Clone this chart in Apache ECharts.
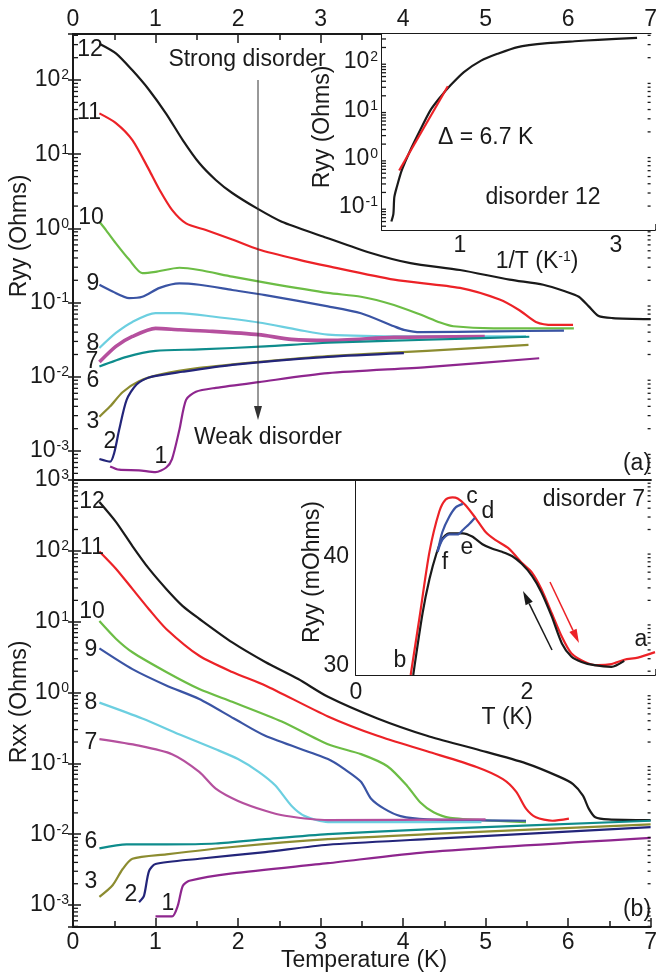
<!DOCTYPE html>
<html>
<head>
<meta charset="utf-8">
<script src="https://cdn.jsdelivr.net/npm/echarts@6/dist/echarts.min.js"></script>
<style>
  html, body { margin: 0; padding: 0; background: #fff; }
  #chart { width: 660px; height: 973px; }
</style>
</head>
<body>
<div id="chart"></div>
<script>
// (a) Ryy vs T, pairs of [T (K), R (Ohms)], one array per disorder level
const ra12 = [[0.32,309],[0.52,229],[0.72,135],[0.92,74],[1.13,35],[1.33,15.5],[1.53,7.6],[1.73,4.5],[1.93,3.0],[2.23,1.86],[2.53,1.23],[3.03,0.78],[3.6,0.47],[4.09,0.34],[4.69,0.275],[5.29,0.204],[5.7,0.174],[5.97,0.141],[6.13,0.12],[6.25,0.089],[6.37,0.066],[6.54,0.062],[7.0,0.060]];
const ra11 = [[0.32,35.5],[0.52,26.3],[0.72,15.5],[0.92,6.2],[1.05,3.3],[1.2,1.78],[1.37,1.17],[1.61,0.95],[1.93,0.71],[2.25,0.52],[2.73,0.38],[3.09,0.31],[3.89,0.204],[4.69,0.158],[5.17,0.11],[5.41,0.079],[5.61,0.055],[5.82,0.05],[6.06,0.05]];
const ra10 = [[0.32,1.23],[0.4,0.95],[0.52,0.63],[0.68,0.38],[0.84,0.25],[1.0,0.26],[1.29,0.295],[1.53,0.275],[1.93,0.224],[2.33,0.186],[3.09,0.135],[3.49,0.12],[3.89,0.093],[4.21,0.069],[4.45,0.054],[4.61,0.048],[5.1,0.045],[6.07,0.045]];
const ra9 = [[0.32,0.174],[0.48,0.141],[0.68,0.115],[0.84,0.12],[1.05,0.158],[1.29,0.182],[1.53,0.174],[1.93,0.148],[2.33,0.126],[3.09,0.089],[3.49,0.072],[3.89,0.048],[4.01,0.043],[4.21,0.040],[5.1,0.041],[5.95,0.042]];
const ra8 = [[0.32,0.0245],[0.52,0.039],[0.72,0.055],[1.0,0.072],[1.29,0.072],[1.69,0.065],[2.25,0.054],[2.73,0.043],[3.09,0.037],[4.09,0.035],[5.49,0.035]];
const ra7 = [[0.32,0.0158],[0.52,0.0257],[0.72,0.035],[1.0,0.045],[1.29,0.043],[1.69,0.041],[2.25,0.037],[2.65,0.032],[3.09,0.031],[3.89,0.034],[4.99,0.035]];
const ra6 = [[0.32,0.0138],[0.65,0.0186],[1.0,0.0224],[1.53,0.0234],[2.33,0.0257],[3.09,0.0288],[4.29,0.0316],[5.53,0.0347]];
const ra3 = [[0.32,0.0029],[0.45,0.004],[0.6,0.0062],[0.8,0.0087],[1.05,0.0107],[1.53,0.0132],[2.33,0.0162],[3.09,0.019],[4.29,0.0224],[5.52,0.0269]];
const ra2 = [[0.32,0.00078],[0.45,0.00072],[0.5,0.00095],[0.56,0.00195],[0.65,0.0049],[0.77,0.0079],[0.92,0.0098],[1.33,0.0117],[1.93,0.0145],[3.09,0.0186],[4.01,0.0209]];
const ra1 = [[0.45,0.00062],[0.56,0.00056],[0.8,0.00055],[1.0,0.00052],[1.13,0.0006],[1.2,0.00078],[1.29,0.00195],[1.37,0.0049],[1.49,0.0063],[1.73,0.0071],[2.25,0.0085],[3.09,0.0112],[4.29,0.0135],[5.65,0.0178]];

// (b) Rxx vs T
const rb12 = [[0.32,490],[0.52,257],[0.72,117],[0.92,56],[1.13,29],[1.33,16.6],[1.53,11],[1.93,5.1],[2.33,2.7],[2.73,1.55],[3.09,0.87],[3.69,0.43],[4.29,0.245],[4.89,0.158],[5.49,0.1],[5.89,0.065],[6.06,0.051],[6.18,0.035],[6.25,0.023],[6.33,0.0174],[6.49,0.0162],[7.0,0.0158]];
const rb11 = [[0.32,98],[0.52,56],[0.72,29],[0.92,15],[1.13,7.9],[1.53,3.3],[1.93,1.95],[2.33,1.26],[3.09,0.46],[3.69,0.245],[4.29,0.148],[4.89,0.089],[5.21,0.06],[5.37,0.04],[5.49,0.023],[5.61,0.0174],[5.81,0.0155],[6.01,0.0166]];
const rb10 = [[0.32,10.2],[0.52,5.75],[0.72,3.7],[1.13,1.95],[1.53,1.12],[1.93,0.74],[2.53,0.39],[3.09,0.186],[3.49,0.135],[3.81,0.091],[4.05,0.048],[4.21,0.028],[4.37,0.0204],[4.57,0.017],[5.1,0.0155],[5.49,0.0148]];
const rb9 = [[0.32,4.2],[0.72,2.14],[1.13,1.26],[1.53,0.81],[1.95,0.43],[2.33,0.245],[3.09,0.115],[3.29,0.083],[3.49,0.055],[3.61,0.032],[3.77,0.023],[3.97,0.018],[4.29,0.0162],[5.49,0.0155]];
const rb8 = [[0.32,0.72],[0.84,0.43],[1.33,0.245],[1.73,0.158],[2.0,0.115],[2.25,0.076],[2.45,0.049],[2.65,0.025],[2.81,0.018],[3.09,0.0148],[4.95,0.0148]];
const rb7 = [[0.32,0.22],[0.8,0.178],[1.2,0.135],[1.53,0.076],[1.73,0.044],[2.0,0.0295],[2.33,0.0214],[2.57,0.0182],[3.09,0.0158],[5.0,0.0162]];
const rb6 = [[0.32,0.0063],[0.65,0.0072],[1.13,0.0072],[1.73,0.0074],[2.33,0.0085],[3.09,0.01],[4.29,0.0117],[7.0,0.0155]];
const rb3 = [[0.32,0.0013],[0.48,0.0019],[0.6,0.0032],[0.72,0.0045],[1.13,0.0052],[1.93,0.0066],[3.09,0.0085],[4.29,0.01],[7.0,0.0138]];
const rb2 = [[0.8,0.0011],[0.86,0.00135],[0.92,0.003],[1.0,0.0038],[1.53,0.0045],[2.33,0.0056],[3.09,0.0071],[4.29,0.0085],[7.0,0.0126]];
const rb1 = [[1.0,0.00069],[1.2,0.00069],[1.27,0.00098],[1.33,0.00186],[1.41,0.0022],[1.93,0.0028],[3.09,0.0039],[4.29,0.0056],[7.0,0.0089]];

// inset (a): disorder 12, Ryy vs 1/T, plus the activated fit
const invT12 = [[0.12,0.05],[0.146,0.072],[0.158,0.16],[0.19,0.26],[0.254,0.58],[0.362,1.48],[0.49,3.9],[0.62,10],[0.75,19],[0.878,33],[1.05,62],[1.27,107],[1.48,148],[1.74,204],[2.12,245],[2.47,269],[2.77,288],[3.27,316]];
const fit12 = [[0.22,0.57],[0.844,31.6]];

// inset (b): disorder 7, Ryy (mOhms) vs T, warming / cooling / partial loops
const warm7 = [[0.64,29.1],[0.74,34.2],[0.86,40.4],[0.975,44.1],[1.05,45.2],[1.13,45.4],[1.19,45.3],[1.28,44.7],[1.40,43.5],[1.52,42.2],[1.63,41.5],[1.79,40.7],[1.94,39.4],[2.06,38.5],[2.17,37.0],[2.29,34.8],[2.41,32.6],[2.52,31.1],[2.68,30.3],[2.83,30.0],[2.99,30.1],[3.14,30.5],[3.30,30.7],[3.5,31.2]];
const cool7 = [[0.67,29.1],[0.78,34.8],[0.86,37.9],[0.94,40.2],[1.01,41.6],[1.09,42.1],[1.17,42.1],[1.25,42.1],[1.36,41.8],[1.48,41.1],[1.59,40.7],[1.71,40.4],[1.83,40.0],[1.94,39.3],[2.06,38.2],[2.17,36.7],[2.29,34.5],[2.41,32.0],[2.52,30.8],[2.64,30.3],[2.79,30.0],[2.99,29.85],[3.14,30.4]];
const loopFC = [[0.955,40.4],[1.01,42.2],[1.09,43.6],[1.17,44.5],[1.25,44.8]];
const loopFED = [[0.955,40.4],[1.01,41.5],[1.09,42.0],[1.19,42.0],[1.25,42.4],[1.32,42.9],[1.39,43.5]];

const colors = { 12:'#1a1a1a', 11:'#ec2227', 10:'#6cbd45', 9:'#3a54a4', 8:'#6ccfe0', 7:'#b5509e', 6:'#0e8c8c', 3:'#8c8c30', 2:'#23257a', 1:'#8e268e' };
const levels = [12, 11, 10, 9, 8, 7, 6, 3, 2, 1];
const setA = [ra12, ra11, ra10, ra9, ra8, ra7, ra6, ra3, ra2, ra1];
const setB = [rb12, rb11, rb10, rb9, rb8, rb7, rb6, rb3, rb2, rb1];

const FONT = '"Liberation Sans", Arial, Helvetica, sans-serif';
const INK = '#1a1a1a';
const axLine = { show: true, lineStyle: { color: INK, width: 2 } };
const tickStyle = { color: INK, width: 1.5 };
const supRich = {
  b: { fontSize: 23, fontFamily: FONT, color: INK },
  s: { fontSize: 14, fontFamily: FONT, color: INK, verticalAlign: 'top', padding: [0, 0, 0, 1] }
};
function pow10(v) {
  const e = Math.log10(v), r = Math.round(e);
  if (Math.abs(e - r) > 1e-6) return '';
  return '{b|10}{s|' + r + '}';
}

function line(data, color, xi, yi, w) {
  return {
    type: 'line', data, xAxisIndex: xi, yAxisIndex: yi,
    symbol: 'none', smooth: 0.25,
    lineStyle: { color, width: w || 2.2, join: 'round' }, itemStyle: { color },
    silent: true, animation: false, z: 3
  };
}

// log minor ticks (2..9 x 10^n) along one edge of a log axis, as tiny bars
function minorTicks(xi, yi, xPos, lo, hi, len) {
  const data = [];
  for (let e = -5; e <= 4; e++) {
    for (let k = 2; k <= 9; k++) {
      const v = k * Math.pow(10, e);
      if (v > lo && v < hi) data.push([xPos, v]);
    }
  }
  return {
    type: 'scatter', xAxisIndex: xi, yAxisIndex: yi, data, silent: true, animation: false, z: 6,
    clip: false, symbol: 'rect', symbolSize: [Math.abs(len), 1.3], symbolOffset: [len / 2, 0],
    itemStyle: { color: INK, opacity: 1 }
  };
}

const A_MIN = 4.07e-4, A_MAX = 417;
const B_MIN = 4.9e-4, B_MAX = 1000;
const IA_MIN = 0.0334, IA_MAX = 380;

const xTick = len => ({ show: true, inside: true, length: len, lineStyle: tickStyle });

const xAxes = [
  { gridIndex: 0, type: 'value', position: 'top', min: 0, max: 7, interval: 1,
    axisLine: axLine, axisTick: xTick(9),
    minorTick: { show: true, splitNumber: 2, length: 6, lineStyle: tickStyle },
    axisLabel: { fontSize: 23, fontFamily: FONT, color: INK, margin: 3 }, splitLine: { show: false } },
  { gridIndex: 0, type: 'value', position: 'bottom', min: 0, max: 7,
    axisLine: axLine, axisTick: { show: false }, axisLabel: { show: false }, splitLine: { show: false } },
  { gridIndex: 1, type: 'value', position: 'bottom', min: 0, max: 7, interval: 1,
    axisLine: axLine, axisTick: xTick(9),
    minorTick: { show: true, splitNumber: 2, length: 6, lineStyle: tickStyle },
    axisLabel: { fontSize: 23, fontFamily: FONT, color: INK, margin: 4 }, splitLine: { show: false } },
  { gridIndex: 1, type: 'value', position: 'top', min: 0, max: 7,
    axisLine: axLine, axisTick: { show: false }, axisLabel: { show: false }, splitLine: { show: false } },
  { gridIndex: 2, type: 'value', position: 'bottom', min: 0, max: 3.5, interval: 1,
    axisLine: axLine, axisTick: xTick(6),
    axisLabel: { fontSize: 23, fontFamily: FONT, color: INK, margin: 4, formatter: v => (v === 1 || v === 3) ? String(v) : '' },
    splitLine: { show: false } },
  { gridIndex: 3, type: 'value', position: 'bottom', min: 0, max: 3.5, interval: 1,
    axisLine: axLine, axisTick: xTick(6),
    axisLabel: { fontSize: 23, fontFamily: FONT, color: INK, margin: 6, formatter: v => (v === 0 || v === 2) ? String(v) : '' },
    splitLine: { show: false } }
];

const logLeft = (gi, min, max) => ({
  gridIndex: gi, type: 'log', logBase: 10, position: 'left', min, max,
  axisLine: axLine, axisTick: xTick(8),
  axisLabel: { formatter: pow10, rich: supRich, margin: 4, showMinLabel: true, showMaxLabel: true },
  splitLine: { show: false }
});
const logRight = (gi, min, max) => ({
  gridIndex: gi, type: 'log', logBase: 10, position: 'right', min, max,
  axisLine: axLine, axisTick: xTick(5),
  axisLabel: { show: false }, splitLine: { show: false }
});

const yAxes = [
  logLeft(0, A_MIN, A_MAX),
  logRight(0, A_MIN, A_MAX),
  logLeft(1, B_MIN, B_MAX),
  logRight(1, B_MIN, B_MAX),
  logLeft(2, IA_MIN, IA_MAX),
  { gridIndex: 3, type: 'value', position: 'left', min: 29.1, max: 46.9, splitNumber: 4,
    axisLine: axLine, axisTick: xTick(6),
    axisLabel: { fontSize: 23, fontFamily: FONT, color: INK, margin: 7, formatter: v => (v === 30 || v === 40) ? String(v) : '' },
    splitLine: { show: false } }
];

const series = [];
levels.forEach((lv, i) => {
  series.push(line(setA[i], colors[lv], 0, 0, lv === 7 ? 3.6 : 2.2));
  series.push(line(setB[i], colors[lv], 2, 2, 2.2));
});
series.push(line(invT12, colors[12], 4, 4, 2.2));
series.push(Object.assign(line(fit12, colors[11], 4, 4, 2.2), { smooth: false }));
series.push(line(warm7, colors[11], 5, 5, 2.2));
series.push(line(cool7, colors[12], 5, 5, 2.2));
series.push(line(loopFC, colors[9], 5, 5, 2.2));
series.push(line(loopFED, colors[9], 5, 5, 2.2));
series.push(minorTicks(0, 0, 0, A_MIN, A_MAX, 5));
series.push(minorTicks(0, 0, 7, A_MIN, A_MAX, -3));
series.push(minorTicks(2, 2, 0, B_MIN, B_MAX, 5));
series.push(minorTicks(2, 2, 7, B_MIN, B_MAX, -3));
series.push(minorTicks(4, 4, 0, IA_MIN, IA_MAX, 4));

function txt(x, y, text, extra) {
  return {
    type: 'text', x, y, z: 100,
    style: Object.assign({ text, fill: INK, font: '23px ' + FONT, align: 'center', verticalAlign: 'middle' }, extra || {})
  };
}
function vtxt(x, y, text) {
  const t = txt(x, y, text);
  t.rotation = Math.PI / 2;
  return t;
}
function arrow(x1, y1, x2, y2, color, lw, hl, hw) {
  const dx = x2 - x1, dy = y2 - y1, L = Math.hypot(dx, dy), ux = dx / L, uy = dy / L;
  const bx = x2 - ux * hl, by = y2 - uy * hl;
  return [
    { type: 'line', z: 100, shape: { x1, y1, x2: bx, y2: by }, style: { stroke: color, lineWidth: lw } },
    { type: 'polygon', z: 100, shape: { points: [[x2, y2], [bx - uy * hw, by + ux * hw], [bx + uy * hw, by - ux * hw]] }, style: { fill: color } }
  ];
}

const labelsA = [['12', 90, 50], ['11', 89, 113], ['10', 91, 218], ['9', 93, 284], ['8', 93, 344], ['7', 92, 362], ['6', 93, 381], ['3', 93, 422], ['2', 110, 442], ['1', 161, 457]];
const labelsB = [['12', 92, 502], ['11', 92, 548], ['10', 92, 612], ['9', 91, 650], ['8', 91, 703], ['7', 91, 743], ['6', 91, 842], ['3', 91, 882], ['2', 131, 895], ['1', 168, 904]];

const graphics = [];
labelsA.concat(labelsB).forEach(l => graphics.push(txt(l[1], l[2], l[0])));
graphics.push(
  txt(247, 60, 'Strong disorder'),
  txt(268, 438, 'Weak disorder'),
  txt(637, 464, '(a)'),
  txt(637, 910, '(b)'),
  vtxt(20, 236, 'Ryy (Ohms)'),
  vtxt(20, 702, 'Rxx (Ohms)'),
  txt(364, 961, 'Temperature (K)'),
  // inset (a)
  vtxt(323, 127, 'Ryy (Ohms)'),
  txt(438, 138, 'Δ = 6.7 K', { align: 'left' }),
  txt(543, 198, 'disorder 12'),
  txt(537, 262, '{n|1/T (K}{s|-1}{n|)}', { rich: { n: { fontSize: 23, fontFamily: FONT, color: INK }, s: { fontSize: 14, fontFamily: FONT, color: INK, verticalAlign: 'top' } } }),
  // inset (b)
  vtxt(313, 572, 'Ryy (mOhms)'),
  txt(507, 718, 'T (K)'),
  txt(594, 500, 'disorder 7'),
  txt(472, 497, 'c'),
  txt(488, 512, 'd'),
  txt(467, 548, 'e'),
  txt(445, 563, 'f'),
  txt(400, 661, 'b'),
  txt(641, 640, 'a')
);
graphics.push(...arrow(258, 80, 258, 420, '#333', 1, 14, 4));
graphics.push(...arrow(552, 650, 523, 591, INK, 1.5, 14, 4));
graphics.push(...arrow(550, 582, 579, 643, colors[11], 1.5, 14, 4));

const chart = echarts.init(document.getElementById('chart'), null, { renderer: 'canvas' });
chart.setOption({
  backgroundColor: '#fff',
  animation: false,
  textStyle: { fontFamily: FONT },
  grid: [
    { left: 73, top: 34, width: 582, height: 446 },
    { left: 73, top: 480, width: 582, height: 447 },
    { left: 382, top: 34, width: 273, height: 196, show: true, backgroundColor: '#fff', borderWidth: 0, z: 2 },
    { left: 356, top: 481, width: 299, height: 194, show: true, backgroundColor: '#fff', borderWidth: 0, z: 2 }
  ],
  xAxis: xAxes,
  yAxis: yAxes,
  series,
  graphic: graphics
});
</script>
</body>
</html>
